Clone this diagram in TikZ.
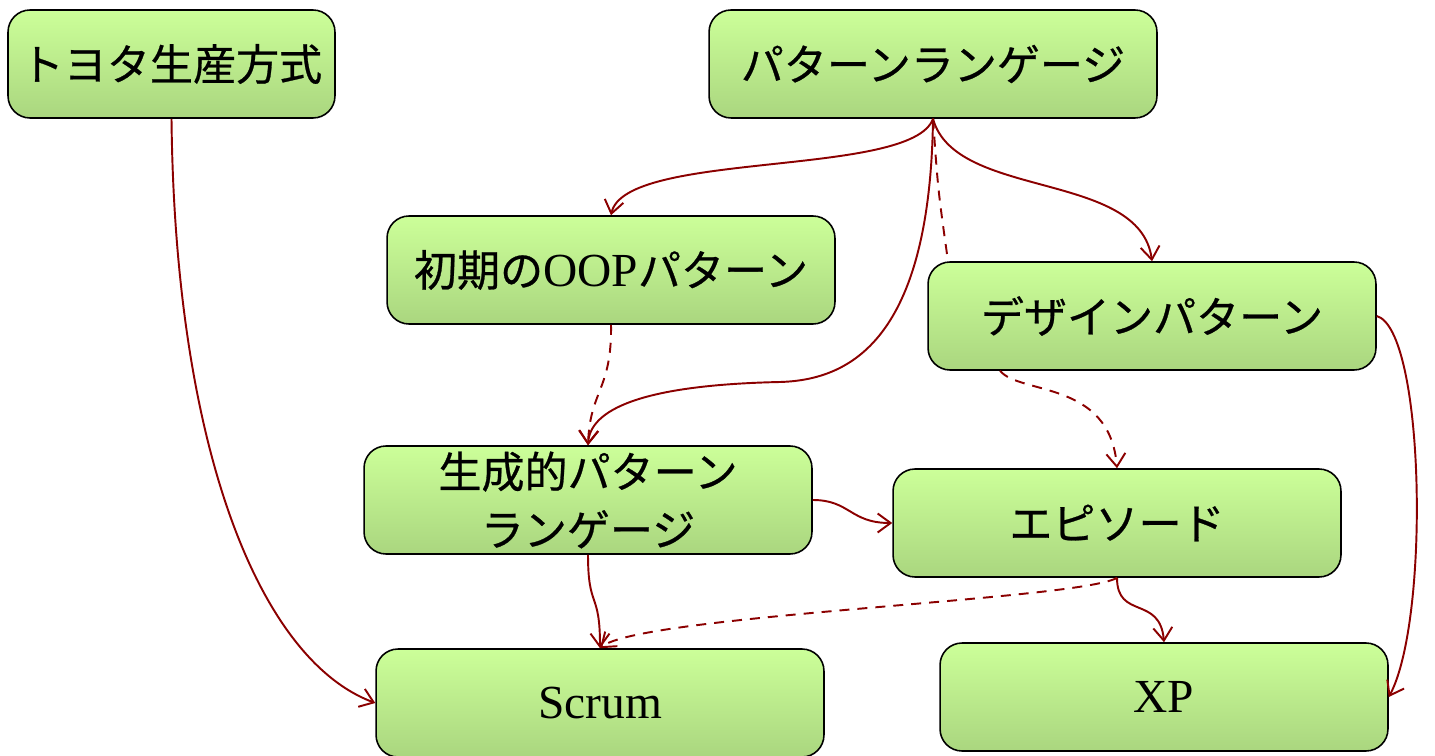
\documentclass[tikz,border=0pt]{standalone}
\usepackage{fontspec}
\setmainfont{Liberation Serif}
\newfontfamily\jpfont[FakeBold=0.6]{Noto Sans CJK JP}
\usetikzlibrary{
  arrows.meta,
  calc
}
\definecolor{boxtop}{HTML}{CCFF99}
\definecolor{boxbottom}{HTML}{AAD67F}
\definecolor{edge}{HTML}{8B0000}
\newcommand{\lat}[1]{{\fontsize{27}{33}\selectfont\rmfamily #1}}
\tikzset{
  topic/.style={
    draw=black,
    line width=0.9pt,
    rounded corners=0.44cm,
    top color=boxtop,
    bottom color=boxbottom,
    minimum width=8.96cm,
    minimum height=2.16cm,
    inner sep=0pt,
    align=center,
    font=\fontsize{24.5}{33}\selectfont\jpfont
  },
  link/.style={
    -{Straight Barb[length=2.6mm,width=3.8mm]},
    line width=1.1pt,
    draw=edge
  },
  weaklink/.style={
    link,
    dash pattern=on 2mm off 1.6mm
  }
}

\begin{document}
\begin{tikzpicture}[x=0.02cm, y=-0.02cm]
  \useasboundingbox (0,0) rectangle (1435,756);

  \node[topic, minimum width=6.54cm] (tps) at (171.5,64) {トヨタ生産方式};
  \node[topic] (pl) at (933,64) {パターンランゲージ};
  \node[topic] (oop) at (611,270) {初期の\lat{OOP}パターン};
  \node[topic] (dp) at (1152,316) {デザインパターン};
  \node[topic] (gpl) at (588,500) {生成的パターン\\ランゲージ};
  \node[topic] (ep) at (1117,523) {エピソード};
  \node[topic] (scrum) at (600,703) {\lat{Scrum}};
  \node[topic] (xp) at (1164,697) {\lat{XP}};

  % from the pattern language
  \draw[link] (pl.south) .. controls (912,178) and (625,150) .. (oop.north);
  \draw[link] (pl.south) .. controls (930,340) and (850,380) .. (780,382)
    .. controls (640,385) and (590,410) .. (gpl.north);
  \draw[draw=edge, line width=1.1pt, dash pattern=on 2mm off 1.6mm]
    (pl.south) .. controls (938,190) .. ($(dp.north)+(-204,0)$);
  \draw[link] (pl.south) .. controls (955,200) and (1140,170) .. (dp.north);

  % middle rows
  \draw[weaklink] (oop.south) .. controls (612,390) and (590,390) .. (gpl.north);
  \draw[weaklink] ($(dp.south)+(-152,0)$) .. controls (1020,395) and (1110,380)
    .. (ep.north);
  \draw[link] (gpl.east) .. controls (850,500) and (850,523) .. (ep.west);
  \draw[link] (dp.east) .. controls (1425,330) and (1430,620) .. (xp.east);

  % into Scrum and XP
  \draw[link] (tps.south) .. controls (175,450) and (260,660) .. (scrum.west);
  \draw[link] (gpl.south) .. controls (588,610) and (600,590) .. (scrum.north);
  \draw[weaklink] (ep.south) .. controls (1080,600) and (640,615) .. (scrum.north);
  \draw[link] (ep.south) .. controls (1117,620) and (1160,595) .. (xp.north);
\end{tikzpicture}
\end{document}
